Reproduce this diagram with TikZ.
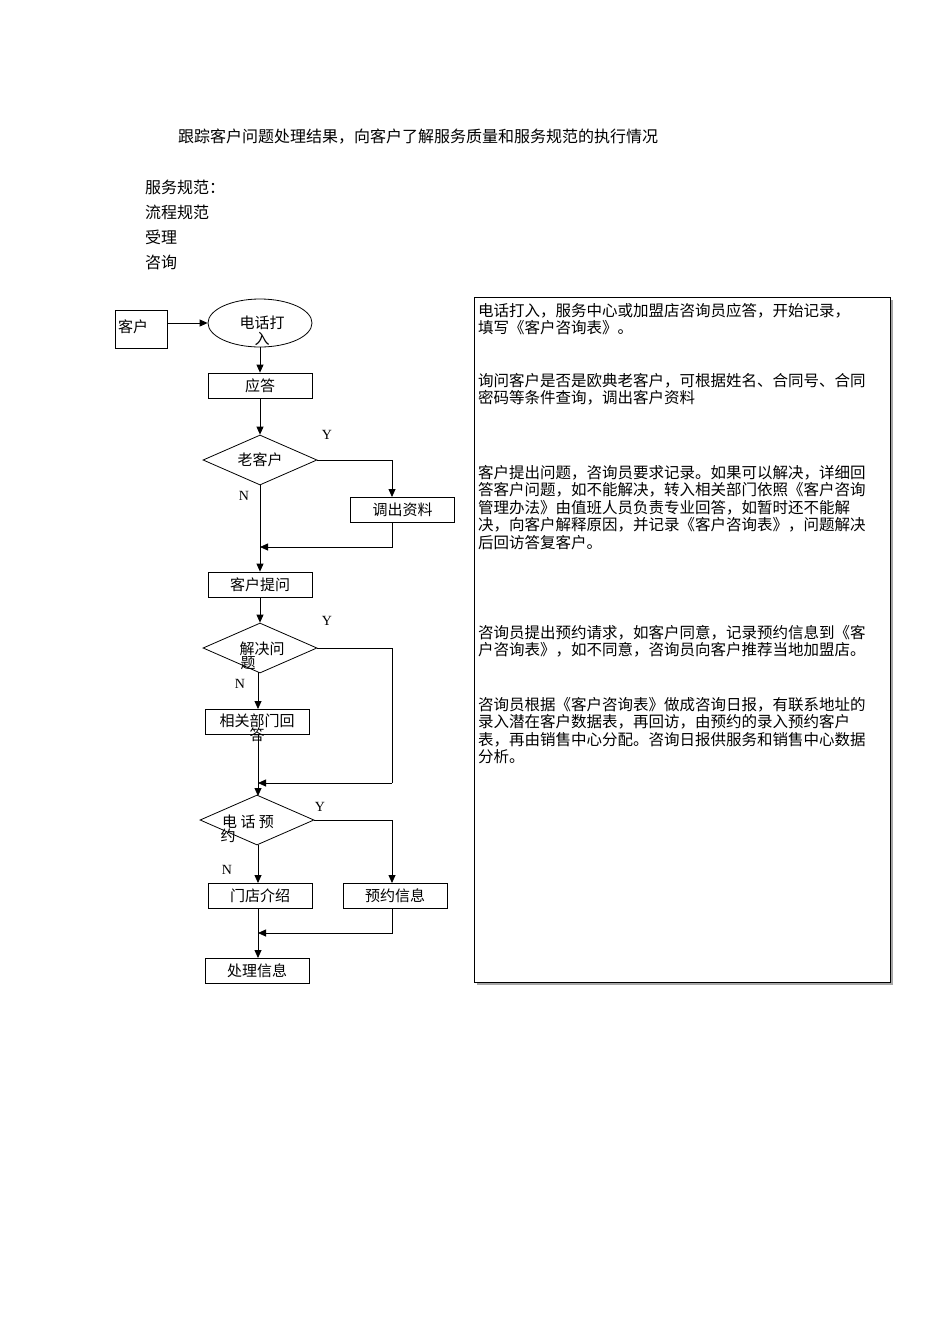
\documentclass[tikz,border=0pt]{standalone}
\usepackage{fontspec}
\setmainfont{Liberation Serif}
\newfontfamily\cjk{Noto Sans CJK SC}
\usetikzlibrary{shapes.geometric,arrows.meta}
\begin{document}
\begin{tikzpicture}[x=1pt,y=-1pt,
  every node/.style={font=\cjk\fontsize{15}{16}\selectfont},
  hd/.style={anchor=west,inner sep=0pt,font=\cjk\fontsize{16}{18}\selectfont},
  box/.style={draw,thick,minimum width=104pt,minimum height=25pt,inner sep=0pt},
  dia/.style={draw,thick,diamond,aspect=2.28,minimum width=114pt,minimum height=50pt,inner sep=0pt},
  lab/.style={font=\rmfamily\fontsize{14}{16}\selectfont},
  arr/.style={thick,-{Triangle[length=8pt,width=7pt]}},
  ln/.style={thick},
  para/.style={anchor=north west,align=left,inner sep=0pt,font=\cjk\fontsize{15.5}{17.5}\selectfont}]
\useasboundingbox (0,0) rectangle (950,1344);
\fill[white] (0,0) rectangle (950,1344);
% header texts
\node[hd] (hdr) at (178,137) {跟踪客户问题处理结果，向客户了解服务质量和服务规范的执行情况};
\node[hd] (t1) at (145,187) {服务规范：};
\node[hd] (t2) at (145,212) {流程规范};
\node[hd] (t3) at (145,237) {受理};
\node[hd] (t4) at (145,262) {咨询};
% flowchart
\node[draw,thick,minimum width=52pt,minimum height=38pt,inner sep=2pt,anchor=north west] (kh) at (115,310) {};
\node[anchor=west,inner sep=0pt] at (118,327) {客户};
\node[draw,thick,ellipse,minimum width=104pt,minimum height=48pt,inner sep=0pt] (call) at (260,323) {};
\node[align=center,inner sep=0pt] at (262,331) {电话打\\入};
\node[box] (yd) at (260,385.5) {应答};
\node[dia] (old) at (260,460) {老客户};
\node[box] (dc) at (402.5,509.5) {调出资料};
\coordinate (m1) at (260,547);
\node[box] (tw) at (260,584.5) {客户提问};
\node[dia] (jj) at (260,648) {};
\node[align=center,inner sep=0pt] at (262,656) {解决问\\[-2pt]\hspace*{-28pt}题};
\node[box] (xg) at (257,721.5) {};
\node[align=center,inner sep=0pt] at (257,728) {相关部门回\\[-2pt]答};
\coordinate (m2) at (258,783);
\node[dia] (yy) at (257,820) {};
\node[align=center,inner sep=0pt] at (248,829) {电 话 预\\[-2pt]\hspace*{-40pt}约};
\node[box] (md) at (260,895.5) {门店介绍};
\node[box] (yx) at (395,895.5) {预约信息};
\coordinate (m3) at (258,933);
\node[box] (cl) at (257,970.5) {处理信息};
\draw[arr] (kh.east|-call.west) -- (call.west);
\draw[arr] (call.south) -- (yd.north);
\draw[arr] (yd.south) -- (old.north);
\draw[arr] (old.east) -| (392,497);
\draw[ln] (old.south) -- (m1);
\draw[arr] (392,522) |- (m1);
\draw[arr] (m1) -- (tw.north);
\draw[arr] (tw.south) -- (jj.north);
\draw[arr] (258,672) -- (258,709);
\draw[ln] (jj.east) -| (392,783);
\draw[arr] (392,783) -- (m2);
\draw[arr] (258,734) -- (258,796);
\draw[arr] (258,845) -- (258,883);
\draw[arr] (yy.east) -| (392,883);
\draw[arr] (392,908) |- (m3);
\draw[arr] (258,908) -- (258,958);
\node[lab] at (327,435) {Y};
\node[lab] at (244,496) {N};
\node[lab] at (327,621) {Y};
\node[lab] at (240,684) {N};
\node[lab] at (320,807) {Y};
\node[lab] at (227,870) {N};
% text panel
\fill[gray!70] (477,300) rectangle (893,985);
\draw[thick,fill=white] (474,297) rectangle (890,982);
\node[para] (p1) at (478,303) {电话打入，服务中心或加盟店咨询员应答，开始记录，\\填写《客户咨询表》。};
\node[para] (p2) at (478,373) {询问客户是否是欧典老客户，可根据姓名、合同号、合同\\密码等条件查询，调出客户资料};
\node[para] (p3) at (478,465) {客户提出问题，咨询员要求记录。如果可以解决，详细回\\答客户问题，如不能解决，转入相关部门依照《客户咨询\\管理办法》由值班人员负责专业回答，如暂时还不能解\\决，向客户解释原因，并记录《客户咨询表》，问题解决\\后回访答复客户。};
\node[para] (p4) at (478,625) {咨询员提出预约请求，如客户同意，记录预约信息到《客\\户咨询表》，如不同意，咨询员向客户推荐当地加盟店。};
\node[para] (p5) at (478,697) {咨询员根据《客户咨询表》做成咨询日报，有联系地址的\\录入潜在客户数据表，再回访，由预约的录入预约客户\\表，再由销售中心分配。咨询日报供服务和销售中心数据\\分析。};
\end{tikzpicture}
\end{document}
